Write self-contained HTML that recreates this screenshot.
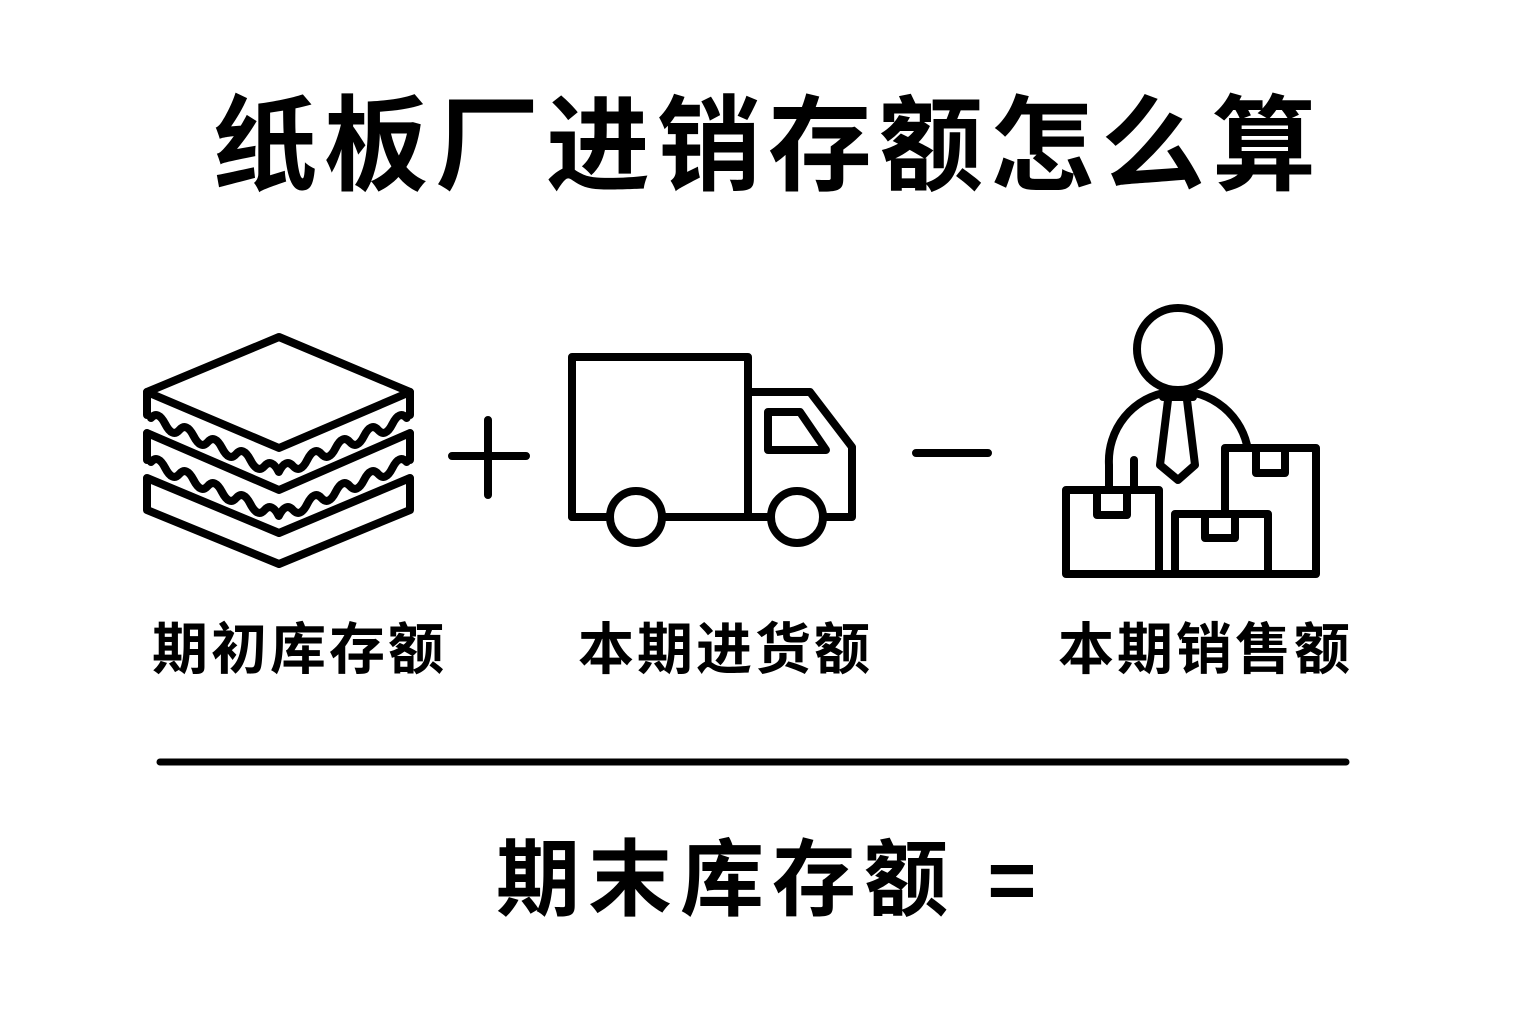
<!DOCTYPE html>
<html><head><meta charset="utf-8"><style>
body{margin:0;width:1536px;height:1024px;background:#fff;overflow:hidden;position:relative;font-family:"Liberation Sans","Noto Sans CJK SC",sans-serif;font-weight:bold;color:#000}
.t{position:absolute;white-space:nowrap;line-height:1}
</style></head><body>
<div class="t" style="left:213px;top:95px;font-size:104px;letter-spacing:7px">纸板厂进销存额怎么算</div>
<div class="t" style="left:152px;top:622px;font-size:56px;letter-spacing:3px">期初库存额</div>
<div class="t" style="left:578px;top:622px;font-size:56px;letter-spacing:3px">本期进货额</div>
<div class="t" style="left:1058px;top:622px;font-size:56px;letter-spacing:3px">本期销售额</div>
<div class="t" style="left:496px;top:838px;font-size:84px;letter-spacing:8px">期末库存额 =</div>
<svg width="1536" height="1024" style="position:absolute;left:0;top:0" fill="none" stroke="#000" stroke-width="8" stroke-linejoin="round" stroke-linecap="round">
<polygon points="279,337 410,392 279,448 147,392"/>
<path d="M147,392V415M410,392V415"/>
<path d="M151,418 q7,-8 14.2,6 t14.2,6 t14.2,6 t14.2,6 t14.2,6 t14.2,6 t14.2,6 t14.2,6 t14.2,6 q7,-14 14.2,-6 t14.2,-6 t14.2,-6 t14.2,-6 t14.2,-6 t14.2,-6 t14.2,-6 t14.2,-6 t14.2,-6"/>
<path d="M147,433 L279,490 L410,433 M147,433V460M410,433V460"/>
<path d="M151,462 q7,-8 14.2,6 t14.2,6 t14.2,6 t14.2,6 t14.2,6 t14.2,6 t14.2,6 t14.2,6 t14.2,6 q7,-14 14.2,-6 t14.2,-6 t14.2,-6 t14.2,-6 t14.2,-6 t14.2,-6 t14.2,-6 t14.2,-6 t14.2,-6"/>
<path d="M147,478 L279,533 L410,478 M147,478V510 L279,564 L410,510 V478"/>
<path d="M452,456H526M488,420V495M916,453H988"/>
<rect x="572" y="357" width="176" height="160"/>
<path d="M748,392H810L852,447V517H572"/>
<polygon points="768,412 800,412 826,450 768,450"/>
<circle cx="636" cy="517" r="26" fill="#fff"/>
<circle cx="797" cy="517" r="26" fill="#fff"/>
<circle cx="1178" cy="349" r="41"/>
<path d="M1109,486V465A70,70 0 0 1 1247,445"/>
<path d="M1134,460V486"/>
<path d="M1163,397H1193M1168,400L1160,465L1178,480L1195,465L1187,400"/>
<rect x="1066" y="490" width="93" height="84" fill="#fff"/>
<path d="M1097,490V515H1127V490"/>
<rect x="1225" y="448" width="91" height="126" fill="#fff"/>
<path d="M1256,448V473H1285V448"/>
<rect x="1175" y="514" width="93" height="60" fill="#fff"/>
<path d="M1205,514V538H1235V514"/>
<path d="M1159,574H1175"/>
<path d="M160,762H1346" stroke-width="7"/>
</svg>
</body></html>
